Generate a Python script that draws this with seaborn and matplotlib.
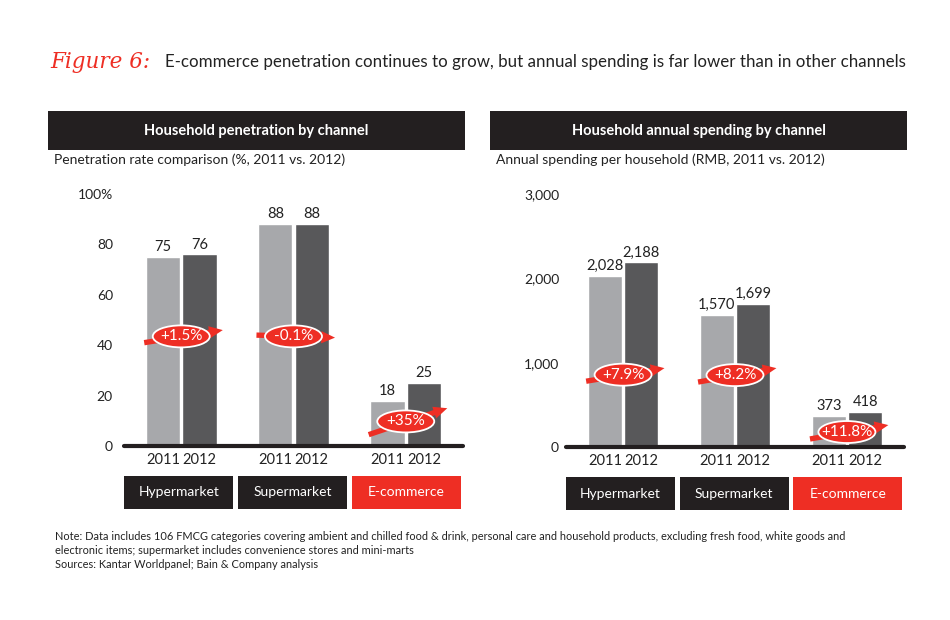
import pandas as pd
import matplotlib
matplotlib.use('Agg')
import matplotlib.pyplot as plt
import seaborn as sns
from matplotlib.patches import Rectangle, Ellipse

channels = ['Hypermarket', 'Supermarket', 'E-commerce']
years = ['2011', '2012']
penetration_2011 = [75, 88, 18]
penetration_2012 = [76, 88, 25]
spending_2011 = [2028, 1570, 373]
spending_2012 = [2188, 1699, 418]
penetration_growth = ['+1.5%', '-0.1%', '+35%']
spending_growth = ['+7.9%', '+8.2%', '+11.8%']

# where the growth arrows start / end (y, in data units)
pen_arrow_y = [(41, 46), (44, 43), (4.5, 15)]
spend_arrow_y = [(780, 935), (770, 935), (95, 260)]

RED = '#EE2E24'
BLACK = '#231F20'
LIGHT = '#A7A8AB'
DARK = '#58585A'
W, H = 950, 620

sns.set_theme(style='white')
plt.rcParams['font.family'] = ['Lato', 'DejaVu Sans']

fig = plt.figure(figsize=(9.5, 6.2), dpi=100)


def fpos(x, y):
    return x / W, 1 - y / H


def draw_panel(ax, v2011, v2012, growth, arrow_y, ymax, ticks, ticklabels, fmt, pad):
    df = pd.DataFrame({
        'channel': channels * 2,
        'year': [years[0]] * 3 + [years[1]] * 3,
        'value': v2011 + v2012,
    })
    sns.barplot(data=df, x='channel', y='value', hue='year', order=channels,
                palette=[LIGHT, DARK], width=0.65, gap=0.06, saturation=1,
                legend=False, ax=ax, zorder=2)
    ax.set_xlim(-0.51, 2.51)
    ax.set_ylim(0, ymax)
    ax.set_xlabel('')
    ax.set_ylabel('')
    ax.set_xticks([])
    ax.set_yticks(ticks)
    ax.set_yticklabels(ticklabels)
    ax.tick_params(axis='y', length=0, pad=pad, labelsize=10, labelcolor='#222222')
    for s in ax.spines.values():
        s.set_visible(False)
    ax.axhline(0, color=BLACK, lw=3, zorder=3, clip_on=False)

    for cont, yr in zip(ax.containers, years):
        ax.bar_label(cont, labels=[fmt.format(b.get_height()) for b in cont],
                     padding=2, fontsize=10.5, color='#222222')
        for b in cont:
            ax.text(b.get_x() + b.get_width() / 2, -0.056, yr,
                    transform=ax.get_xaxis_transform(), ha='center', va='center',
                    fontsize=10.5, color='#222222')

    # channel boxes below the years
    for i, ch in enumerate(channels):
        x0 = -0.51 + i * 1.015
        ax.add_patch(Rectangle((x0, -0.25), 0.975, 0.132, transform=ax.get_xaxis_transform(),
                               clip_on=False, facecolor=RED if ch == 'E-commerce' else BLACK,
                               edgecolor='none'))
        ax.text(x0 + 0.4875, -0.184, ch, transform=ax.get_xaxis_transform(),
                ha='center', va='center', color='white', fontsize=10)

    # growth arrows with ellipse labels
    bb = ax.get_position()
    per_x = bb.width * W / (2.51 + 0.51)
    per_y = bb.height * H / ymax
    for i, (lab, (y0, y1)) in enumerate(zip(growth, arrow_y)):
        ax.annotate('', xy=(i + 0.37, y1), xytext=(i - 0.33, y0),
                    arrowprops=dict(arrowstyle='simple,head_length=0.9,head_width=0.8,tail_width=0.35',
                                    color=RED, lw=0, shrinkA=0, shrinkB=0, mutation_scale=11),
                    zorder=4)
        ym = (y0 + y1) / 2
        ax.add_patch(Ellipse((i, ym), 57 / per_x, 22 / per_y, facecolor=RED,
                             edgecolor='white', lw=1.3, zorder=5))
        ax.text(i, ym, lab, ha='center', va='center', color='white',
                fontsize=11, zorder=6)


ax1 = fig.add_axes([124 / W, 174 / H, 339 / W, 252 / H])
draw_panel(ax1, penetration_2011, penetration_2012, penetration_growth, pen_arrow_y,
           100, [0, 20, 40, 60, 80, 100], ['0', '20', '40', '60', '80', '100%'], '{:.0f}', 8)

ax2 = fig.add_axes([566 / W, 173 / H, 338 / W, 253 / H])
draw_panel(ax2, spending_2011, spending_2012, spending_growth, spend_arrow_y,
           3000, [0, 1000, 2000, 3000], ['0', '1,000', '2,000', '3,000'], '{:,.0f}', 5)

# panel headers
for x0, x1, txt, sub in [(48, 465, 'Household penetration by channel',
                          'Penetration rate comparison (%, 2011 vs. 2012)'),
                         (490, 907, 'Household annual spending by channel',
                          'Annual spending per household (RMB, 2011 vs. 2012)')]:
    fig.add_artist(Rectangle(fpos(x0, 150), (x1 - x0) / W, 39 / H,
                             transform=fig.transFigure, facecolor=BLACK, edgecolor='none'))
    fig.text(*fpos((x0 + x1) / 2, 131), txt, ha='center', va='center', color='white',
             fontsize=10.5, fontweight='bold')
    fig.text(*fpos(x0 + 6, 160), sub, ha='left', va='center', color='#222222', fontsize=10)

# title
fig.text(*fpos(50, 62), 'Figure 6:', color=RED, fontsize=15.5, family='DejaVu Serif',
         style='italic', ha='left', va='center')
fig.text(*fpos(165, 62),
         'E-commerce penetration continues to grow, but annual spending is far lower than in other channels',
         color='#222222', fontsize=12.2, ha='left', va='center')

# notes
fig.text(*fpos(55, 531),
         'Note: Data includes 106 FMCG categories covering ambient and chilled food & drink, personal care and household products, excluding fresh food, white goods and\n'
         'electronic items; supermarket includes convenience stores and mini-marts\n'
         'Sources: Kantar Worldpanel; Bain & Company analysis',
         ha='left', va='top', fontsize=7.9, color='#222222', linespacing=1.35)

fig.savefig('out.png', dpi=100)
